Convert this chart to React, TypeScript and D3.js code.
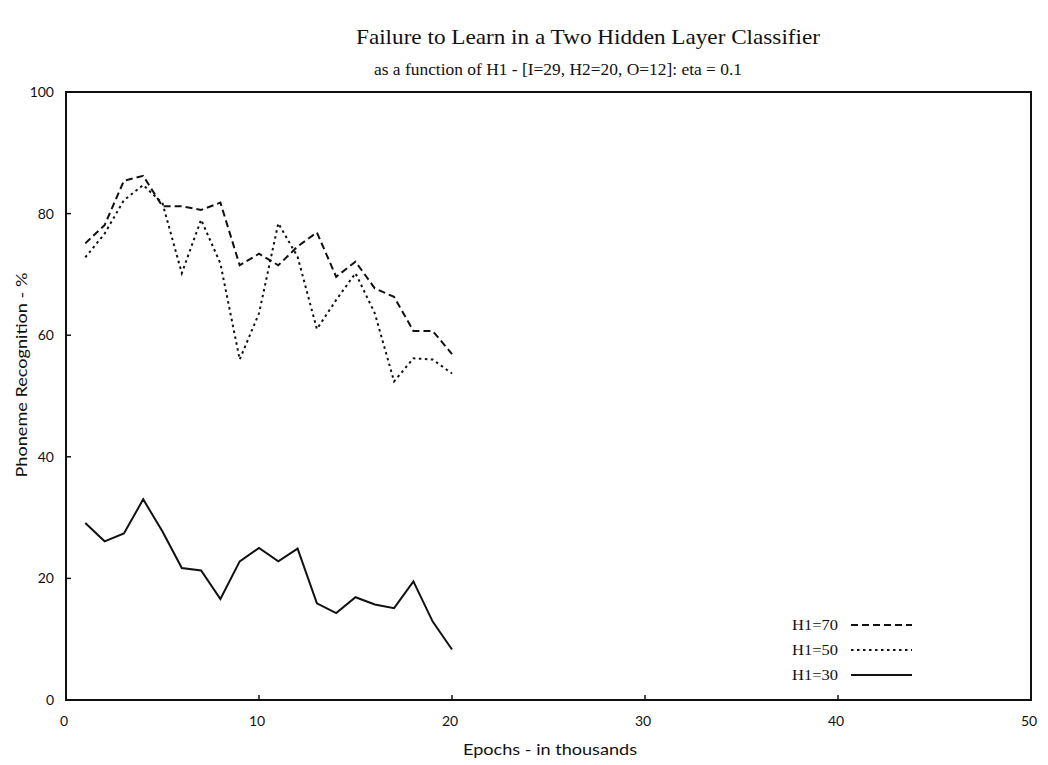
import React from "react";
import * as d3 from "d3";

const epochs = [1, 2, 3, 4, 5, 6, 7, 8, 9, 10, 11, 12, 13, 14, 15, 16, 17, 18, 19, 20];
const h1_70 = [75.1, 78.1, 85.4, 86.2, 81.2, 81.2, 80.6, 81.8, 71.5, 73.4, 71.5, 74.6, 76.9, 69.6, 72.1, 67.7, 66.3, 60.7, 60.7, 56.9];
const h1_50 = [72.8, 76.7, 82.2, 84.7, 81.7, 70.2, 79.0, 71.8, 56.0, 63.6, 78.4, 72.9, 61.0, 65.8, 70.2, 63.6, 52.4, 56.2, 56.0, 53.7];
const h1_30 = [29.1, 26.1, 27.4, 33.0, 27.7, 21.7, 21.3, 16.6, 22.8, 25.0, 22.8, 24.9, 15.9, 14.3, 16.9, 15.7, 15.1, 19.5, 12.9, 8.3];
const seriesNames = ["H1=70", "H1=50", "H1=30"];
const xTicks = [0, 10, 20, 30, 40, 50];
const yTicks = [0, 20, 40, 60, 80, 100];

const dashes = ["7,4", "2.5,3.5", "none"];

export default function App() {
  const W = 1048, H = 765;
  const x = d3.scaleLinear().domain([0, 50]).range([66, 1031]);
  const y = d3.scaleLinear().domain([0, 100]).range([700, 92]);
  const serif = "'Liberation Serif', 'DejaVu Serif', serif";
  const sans = "Lato, 'Open Sans', sans-serif";
  const all = [h1_70, h1_50, h1_30];
  const line = d3.line<number>().x((_, i) => x(epochs[i])).y((d) => y(d));
  return (
    <svg width={W} height={H} style={{ position: "absolute", left: 0, top: 0, background: "#fff" }} fontFamily={serif}>
      <rect x={0} y={0} width={W} height={H} fill="#fff" />
      <text x={588} y={44} textAnchor="middle" fontSize={22} fill="#111" textLength={464} lengthAdjust="spacingAndGlyphs">Failure to Learn in a Two Hidden Layer Classifier</text>
      <text x={558} y={75} textAnchor="middle" fontSize={17} fill="#111" textLength={368} lengthAdjust="spacingAndGlyphs">as a function of H1 - [I=29, H2=20, O=12]: eta = 0.1</text>
      <rect x={x(0)} y={y(100)} width={x(50) - x(0)} height={y(0) - y(100)} fill="none" stroke="#111" strokeWidth={2} />
      {xTicks.map((t) => (
        <g key={"x" + t}>
          <line x1={x(t)} x2={x(t)} y1={y(0)} y2={y(0) - 5} stroke="#111" strokeWidth={1.5} />
          <text x={x(t) - 2} y={y(0) + 26} textAnchor="middle" fontSize={14} fontFamily={sans} fill="#111">{t}</text>
        </g>
      ))}
      {yTicks.map((t) => (
        <g key={"y" + t}>
          <line x1={x(0)} x2={x(0) + 5} y1={y(t)} y2={y(t)} stroke="#111" strokeWidth={1.5} />
          <text x={54} y={y(t) + 5} textAnchor="end" fontSize={14} fontFamily={sans} fill="#111">{t}</text>
        </g>
      ))}
      <text x={550} y={755} textAnchor="middle" fontSize={16} fontFamily={sans} fill="#111" textLength={174} lengthAdjust="spacingAndGlyphs">Epochs - in thousands</text>
      <text transform={`translate(27,${375}) rotate(-90)`} textAnchor="middle" fontSize={16} fontFamily={sans} fill="#111" textLength={205} lengthAdjust="spacingAndGlyphs">Phoneme Recognition - %</text>
      {all.map((s, i) => (
        <path key={"s" + i} d={line(s) || ""} fill="none" stroke="#111" strokeWidth={2} strokeDasharray={dashes[i]} />
      ))}
      {seriesNames.map((n, i) => (
        <g key={"l" + i}>
          <text x={792} y={630 + i * 25} fontSize={14} fill="#111" textLength={46} lengthAdjust="spacingAndGlyphs">{n}</text>
          <line x1={851} x2={912} y1={625 + i * 25} y2={625 + i * 25} stroke="#111" strokeWidth={2} strokeDasharray={dashes[i]} />
        </g>
      ))}
    </svg>
  );
}
